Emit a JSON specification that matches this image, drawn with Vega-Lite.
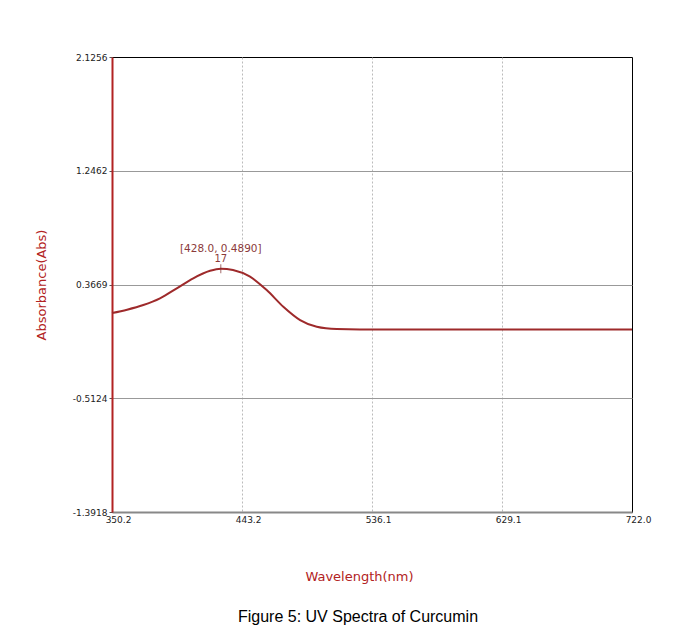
{
  "$schema": "https://vega.github.io/schema/vega-lite/v6.json",
  "autosize": {"type": "none"},
  "padding": {"left": 112, "top": 57, "right": 49, "bottom": 122},
  "width": 520,
  "height": 455,
  "background": "white",
  "config": {
    "view": {"stroke": "#000000", "strokeWidth": 1},
    "font": "DejaVu Sans",
    "axis": {"labelFont": "DejaVu Sans", "labelFontSize": 9, "labelColor": "#222222", "titleFont": "DejaVu Sans", "titleFontSize": 13, "titleFontWeight": "normal", "titleColor": "#b22222"}
  },
  "title": {
    "text": "Figure 5: UV Spectra of Curcumin",
    "orient": "bottom",
    "anchor": "middle",
    "font": "Liberation Sans",
    "fontSize": 16,
    "fontWeight": "normal",
    "color": "#000000",
    "offset": 26,
    "dx": -14
  },
  "datasets": {
    "spectrum": [
      {"wl": 350.2, "abs": 0.146},
      {"wl": 361.0, "abs": 0.172},
      {"wl": 372.6, "abs": 0.208},
      {"wl": 384.5, "abs": 0.260},
      {"wl": 396.5, "abs": 0.337},
      {"wl": 408.3, "abs": 0.415},
      {"wl": 420.3, "abs": 0.473},
      {"wl": 428.0, "abs": 0.489},
      {"wl": 436.7, "abs": 0.479},
      {"wl": 448.9, "abs": 0.427},
      {"wl": 460.8, "abs": 0.324},
      {"wl": 472.7, "abs": 0.195},
      {"wl": 484.7, "abs": 0.092},
      {"wl": 496.6, "abs": 0.040},
      {"wl": 510.9, "abs": 0.022},
      {"wl": 527.5, "abs": 0.019},
      {"wl": 600.0, "abs": 0.019},
      {"wl": 722.0, "abs": 0.019}
    ],
    "peak": [{"wl": 428.0, "abs": 0.489, "label": "[428.0, 0.4890]", "num": "17"}]
  },
  "encoding": {
    "x": {
      "field": "wl", "type": "quantitative",
      "scale": {"domain": [350.2, 722.0], "nice": false, "zero": false},
      "axis": {
        "title": "Wavelength(nm)",
        "titleX": 247,
        "values": [350.2, 443.2, 536.1, 629.1, 722.0],
        "format": ".1f",
        "grid": true, "gridColor": "#bbbbbb", "gridDash": [2, 2], "gridWidth": 1,
        "gridOpacity": {"condition": {"test": "datum.value > 700 || datum.value < 351", "value": 0}, "value": 1},
        "domainColor": "#888888", "domainWidth": 2,
        "ticks": false, "labelPadding": 3, "labelFlush": false, "labelOffset": 6, "labelBound": false,
        "titlePadding": 46
      }
    },
    "y": {
      "field": "abs", "type": "quantitative",
      "scale": {"domain": [-1.3918, 2.1256], "nice": false, "zero": false},
      "axis": {
        "title": "Absorbance(Abs)",
        "values": [-1.3918, -0.5124, 0.3669, 1.2462, 2.1256],
        "labelExpr": "replace(format(datum.value, '.4f'), '\u2212', '-')",
        "grid": true, "gridColor": "#999999", "gridWidth": 1,
        "gridOpacity": {"condition": {"test": "datum.value > 2.1 || datum.value < -1.39", "value": 0}, "value": 1},
        "domainColor": "#b22222", "domainWidth": 2,
        "ticks": true, "tickSize": 3, "tickColor": "#555555",
        "labelPadding": 2, "labelFlush": false,
        "titlePadding": 24
      }
    }
  },
  "layer": [
    {
      "data": {"name": "spectrum"},
      "mark": {"type": "line", "color": "#9e2a2b", "strokeWidth": 2, "interpolate": "monotone"}
    },
    {
      "data": {"name": "peak"},
      "mark": {"type": "tick", "orient": "vertical", "size": 9, "thickness": 1, "color": "#7a2a2a"}
    },
    {
      "data": {"name": "peak"},
      "mark": {"type": "text", "fontSize": 10, "color": "#8b3a3a", "dy": -5, "baseline": "bottom", "font": "DejaVu Sans"},
      "encoding": {"text": {"field": "num"}}
    },
    {
      "data": {"name": "peak"},
      "mark": {"type": "text", "fontSize": 10.5, "color": "#8b3a3a", "dy": -15, "baseline": "bottom", "font": "DejaVu Sans"},
      "encoding": {"text": {"field": "label"}}
    }
  ]
}
